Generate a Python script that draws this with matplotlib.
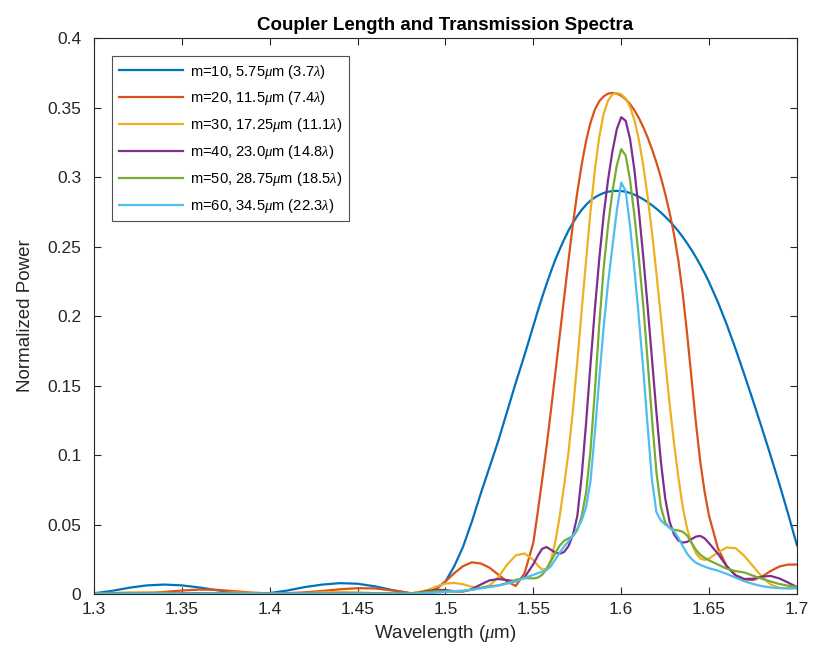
import matplotlib
matplotlib.use('Agg')
import matplotlib.pyplot as plt

plt.rcParams['font.family'] = ['Liberation Sans', 'DejaVu Sans']
plt.rcParams['mathtext.fontset'] = 'custom'
plt.rcParams['mathtext.it'] = 'Liberation Serif:italic'
plt.rcParams['mathtext.rm'] = 'Liberation Sans'

# wavelength samples (um)
wavelength = [
    1.30, 1.31, 1.32, 1.33, 1.34, 1.35, 1.36, 1.37, 1.38, 1.39,
    1.40, 1.41, 1.42, 1.43, 1.44, 1.45, 1.46, 1.47, 1.48,
    1.485, 1.49, 1.495, 1.50, 1.505, 1.51, 1.515, 1.52, 1.525, 1.53,
    1.535, 1.54, 1.545, 1.55,
    1.5525, 1.555, 1.5575, 1.56, 1.5625, 1.565, 1.5675, 1.57, 1.5725, 1.575,
    1.5775, 1.58, 1.5825, 1.585, 1.5875, 1.59, 1.5925, 1.595, 1.5975, 1.60,
    1.6025, 1.605, 1.6075, 1.61, 1.6125, 1.615, 1.6175, 1.62, 1.6225, 1.625,
    1.6275, 1.63, 1.6325, 1.635, 1.6375, 1.64, 1.6425, 1.645, 1.6475,
    1.65, 1.655, 1.66, 1.665, 1.67, 1.675, 1.68, 1.685, 1.69, 1.695, 1.70,
]

m10 = [
    0.0005, 0.0022, 0.0045, 0.0062, 0.0068, 0.0062, 0.0047, 0.0027, 0.0010, 0.0002,
    0.0007, 0.0025, 0.0050, 0.0068, 0.0078, 0.0074, 0.0055, 0.0028, 0.0006,
    0.0001, 0.0010, 0.0040, 0.0090, 0.0200, 0.0340, 0.0520, 0.0720, 0.0910, 0.1100,
    0.1310, 0.1520, 0.1720, 0.1930,
    0.2035, 0.2135, 0.2230, 0.2320, 0.2405, 0.2480, 0.2550, 0.2615, 0.2670, 0.2720,
    0.2763, 0.2800, 0.2830, 0.2853, 0.2871, 0.2885, 0.2894, 0.2899, 0.2900, 0.2899,
    0.2894, 0.2885, 0.2873, 0.2858, 0.2840, 0.2820, 0.2797, 0.2772, 0.2745, 0.2715,
    0.2683, 0.2648, 0.2610, 0.2568, 0.2523, 0.2475, 0.2423, 0.2367, 0.2307,
    0.2243, 0.2100, 0.1940, 0.1765, 0.1580, 0.1390, 0.1195, 0.0995, 0.0790, 0.0575, 0.0350,
]

m20 = [
    0.0002, 0.0003, 0.0005, 0.0008, 0.0015, 0.0025, 0.0032, 0.0030, 0.0020, 0.0010,
    0.0005, 0.0006, 0.0012, 0.0022, 0.0034, 0.0042, 0.0040, 0.0025, 0.0006,
    0.0002, 0.0010, 0.0040, 0.0090, 0.0150, 0.0200, 0.0228, 0.0220, 0.0190, 0.0140,
    0.0090, 0.0058, 0.0150, 0.0370,
    0.0590, 0.0820, 0.1060, 0.1320, 0.1590, 0.1860, 0.2130, 0.2400, 0.2660, 0.2890,
    0.3090, 0.3260, 0.3390, 0.3485, 0.3545, 0.3580, 0.3600, 0.3605, 0.3600, 0.3585,
    0.3560, 0.3525, 0.3480, 0.3425, 0.3360, 0.3285, 0.3200, 0.3105, 0.3000, 0.2880,
    0.2745, 0.2590, 0.2400, 0.2160, 0.1870, 0.1550, 0.1230, 0.0950, 0.0730,
    0.0560, 0.0330, 0.0200, 0.0135, 0.0105, 0.0100, 0.0125, 0.0165, 0.0198, 0.0212, 0.0212,
]

m30 = [
    0.0003, 0.0008, 0.0012, 0.0012, 0.0008, 0.0003, 0.0002, 0.0006, 0.0010, 0.0008,
    0.0003, 0.0002, 0.0006, 0.0012, 0.0015, 0.0012, 0.0006, 0.0002, 0.0006,
    0.0015, 0.0030, 0.0055, 0.0075, 0.0080, 0.0070, 0.0052, 0.0042, 0.0060, 0.0120,
    0.0210, 0.0278, 0.0292, 0.0245,
    0.0205, 0.0175, 0.0182, 0.0245, 0.0375, 0.0560, 0.0780, 0.1020, 0.1320, 0.1670,
    0.2040, 0.2400, 0.2750, 0.3050, 0.3290, 0.3455, 0.3550, 0.3595, 0.3605, 0.3595,
    0.3565, 0.3505, 0.3410, 0.3270, 0.3085, 0.2860, 0.2600, 0.2310, 0.2000, 0.1680,
    0.1370, 0.1090, 0.0840, 0.0625, 0.0470, 0.0365, 0.0295, 0.0255, 0.0245,
    0.0255, 0.0298, 0.0335, 0.0330, 0.0275, 0.0200, 0.0125, 0.0068, 0.0045, 0.0042, 0.0050,
]

m40 = [
    0.0002, 0.0004, 0.0006, 0.0004, 0.0001, 0.0003, 0.0006, 0.0005, 0.0002, 0.0001,
    0.0003, 0.0005, 0.0003, 0.0001, 0.0004, 0.0007, 0.0005, 0.0002, 0.0004,
    0.0010, 0.0022, 0.0030, 0.0028, 0.0020, 0.0018, 0.0035, 0.0068, 0.0098, 0.0108,
    0.0100, 0.0092, 0.0120, 0.0215,
    0.0275, 0.0325, 0.0338, 0.0318, 0.0298, 0.0290, 0.0302, 0.0345, 0.0425, 0.0560,
    0.0850, 0.1230, 0.1650, 0.2050, 0.2410, 0.2725, 0.2980, 0.3185, 0.3345, 0.3430,
    0.3405, 0.3275, 0.3050, 0.2760, 0.2430, 0.2070, 0.1690, 0.1310, 0.0960, 0.0690,
    0.0520, 0.0430, 0.0385, 0.0370, 0.0375, 0.0395, 0.0413, 0.0418, 0.0400,
    0.0365, 0.0290, 0.0200, 0.0135, 0.0108, 0.0110, 0.0125, 0.0130, 0.0112, 0.0082, 0.0050,
]

m50 = [
    0.0001, 0.0003, 0.0005, 0.0004, 0.0002, 0.0001, 0.0003, 0.0004, 0.0002, 0.0001,
    0.0002, 0.0004, 0.0003, 0.0001, 0.0003, 0.0005, 0.0004, 0.0002, 0.0003,
    0.0008, 0.0015, 0.0020, 0.0020, 0.0018, 0.0020, 0.0030, 0.0045, 0.0055, 0.0062,
    0.0078, 0.0102, 0.0115, 0.0112,
    0.0118, 0.0138, 0.0178, 0.0235, 0.0295, 0.0348, 0.0383, 0.0400, 0.0415, 0.0460,
    0.0560, 0.0730, 0.1030, 0.1460, 0.1940, 0.2345, 0.2650, 0.2895, 0.3085, 0.3200,
    0.3155, 0.2980, 0.2725, 0.2420, 0.2080, 0.1680, 0.1260, 0.0880, 0.0630, 0.0515,
    0.0475, 0.0462, 0.0457, 0.0448, 0.0420, 0.0370, 0.0318, 0.0282, 0.0260,
    0.0242, 0.0212, 0.0182, 0.0165, 0.0155, 0.0132, 0.0110, 0.0090, 0.0072, 0.0060, 0.0052,
]

m60 = [
    0.0002, 0.0001, 0.0002, 0.0003, 0.0002, 0.0001, 0.0002, 0.0003, 0.0002, 0.0001,
    0.0002, 0.0003, 0.0002, 0.0001, 0.0002, 0.0003, 0.0002, 0.0001, 0.0002,
    0.0003, 0.0006, 0.0010, 0.0015, 0.0020, 0.0025, 0.0030, 0.0040, 0.0050, 0.0060,
    0.0075, 0.0090, 0.0115, 0.0138,
    0.0150, 0.0160, 0.0172, 0.0200, 0.0248, 0.0298, 0.0342, 0.0380, 0.0420, 0.0470,
    0.0530, 0.0625, 0.0810, 0.1160, 0.1550, 0.1920, 0.2235, 0.2500, 0.2760, 0.2960,
    0.2900, 0.2650, 0.2335, 0.1990, 0.1620, 0.1210, 0.0820, 0.0590, 0.0530, 0.0500,
    0.0478, 0.0452, 0.0405, 0.0345, 0.0290, 0.0252, 0.0225, 0.0210, 0.0197,
    0.0185, 0.0168, 0.0145, 0.0118, 0.0092, 0.0072, 0.0057, 0.0047, 0.0042, 0.0040, 0.0040,
]

labels = [
    r'm=10, 5.75$\mu$m (3.7$\lambda$)',
    r'm=20, 11.5$\mu$m (7.4$\lambda$)',
    r'm=30, 17.25$\mu$m (11.1$\lambda$)',
    r'm=40, 23.0$\mu$m (14.8$\lambda$)',
    r'm=50, 28.75$\mu$m (18.5$\lambda$)',
    r'm=60, 34.5$\mu$m (22.3$\lambda$)',
]
colors = ['#0072BD', '#D95319', '#EDB120', '#7E2F8E', '#77AC30', '#4DBEEE']

fig = plt.figure(figsize=(8.15, 6.62), dpi=100)
ax = fig.add_axes([0.1153, 0.1027, 0.8626, 0.8399])

for series, lab, col in zip([m10, m20, m30, m40, m50, m60], labels, colors):
    ax.plot(wavelength, series, color=col, lw=1.6, label=lab)

ax.set_xlim(1.3, 1.7)
ax.set_ylim(0, 0.4)
ax.set_xticks([1.3, 1.35, 1.4, 1.45, 1.5, 1.55, 1.6, 1.65, 1.7])
ax.set_xticklabels(['1.3', '1.35', '1.4', '1.45', '1.5', '1.55', '1.6', '1.65', '1.7'])
ax.set_yticks([0, 0.05, 0.1, 0.15, 0.2, 0.25, 0.3, 0.35, 0.4])
ax.set_yticklabels(['0', '0.05', '0.1', '0.15', '0.2', '0.25', '0.3', '0.35', '0.4'])
ax.tick_params(direction='in', top=True, right=True, labelsize=12.5,
               colors='#262626', length=5, width=0.8)
ax.tick_params(axis='y', pad=9)
ax.tick_params(axis='x', pad=6)
for s in ax.spines.values():
    s.set_color('#262626')
    s.set_linewidth(0.8)

ax.set_xlabel(r'Wavelength ($\mu$m)', fontsize=13.5, color='#262626')
ax.set_ylabel('Normalized Power', fontsize=13.5, color='#262626', labelpad=10)
ax.set_title('Coupler Length and Transmission Spectra', fontsize=13.5,
             fontweight='bold', color='black')

leg = ax.legend(loc='upper left', bbox_to_anchor=(0.0256, 0.9676), fontsize=10.6,
                frameon=True, fancybox=False, edgecolor='#262626',
                handlelength=4.4, borderpad=0.45, labelspacing=0.6,
                handletextpad=0.45, borderaxespad=0)
leg.get_frame().set_linewidth(0.8)

fig.savefig('out.png', dpi=100)
